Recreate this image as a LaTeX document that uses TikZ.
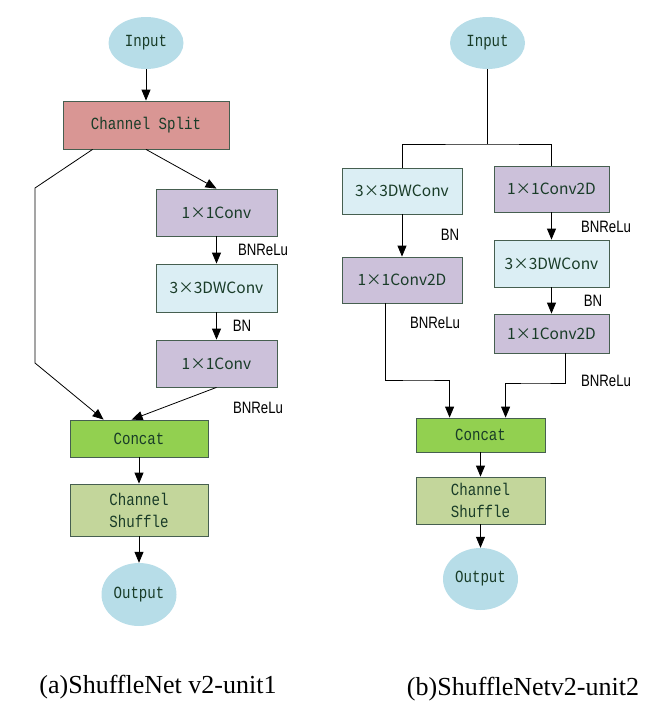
\documentclass[tikz,border=0pt]{standalone}
\usepackage{fontspec}
\setmainfont{Liberation Serif}
\newfontfamily\boxfont[FakeStretch=0.83]{Liberation Mono}
\newfontfamily\labfont[FakeStretch=0.8]{Liberation Sans}
\newfontfamily\cjkfont{Noto Sans CJK SC}
\usepackage{tikz}
\usetikzlibrary{arrows.meta,positioning,shapes.geometric}
\definecolor{boxline}{RGB}{70, 95, 80}
\definecolor{boxtext}{RGB}{25, 60, 40}
\definecolor{ioblue}{RGB}{183, 221, 232}
\definecolor{splitred}{RGB}{217, 150, 148}
\definecolor{convlilac}{RGB}{204, 193, 218}
\definecolor{dwcyan}{RGB}{219, 238, 244}
\definecolor{concatgreen}{RGB}{146, 208, 80}
\definecolor{shufgreen}{RGB}{195, 214, 155}

\begin{document}
\begin{tikzpicture}[x=1pt, y=-1pt,
  blk/.style={draw=boxline, line width=0.8pt, inner sep=0pt, align=center,
    text=boxtext, font=\boxfont\fontsize{17}{22}\selectfont},
  cv/.style={blk, font=\cjkfont\fontsize{15.5}{20}\selectfont},
  io/.style={ellipse, fill=ioblue, inner sep=0pt, text=boxtext,
    font=\boxfont\fontsize{17}{22}\selectfont},
  lab/.style={font=\labfont\fontsize{16.5}{18}\selectfont},
  flow/.style={line width=0.8pt, -{Triangle[length=11pt, width=9pt]}},
  link/.style={line width=0.8pt}]
  \useasboundingbox (0,0) rectangle (668,712);
  % (a) unit 1
  \node[io, minimum width=75pt, minimum height=52pt] (inL) at (146,43) {Input};
  \node[blk, fill=splitred, minimum width=166pt, minimum height=48pt] (splitL) at (146,125) {Channel Split};
  \node[cv, fill=convlilac, minimum width=121pt, minimum height=47pt] (convA) at (216.5,212.5) {1×1Conv};
  \node[cv, fill=dwcyan, minimum width=121pt, minimum height=48pt] (dwA) at (216.5,288) {3×3DWConv};
  \node[cv, fill=convlilac, minimum width=121pt, minimum height=47pt] (convB) at (216.5,363.5) {1×1Conv};
  \node[blk, fill=concatgreen, minimum width=138pt, minimum height=37pt] (concatL) at (139,438.5) {Concat};
  \node[blk, fill=shufgreen, minimum width=138pt, minimum height=52pt] (shufL) at (139,510) {Channel\\Shuffle};
  \node[io, minimum width=75pt, minimum height=63pt] (outL) at (139,594.5) {Output};
  \node[lab] (labA1) at (263,250) {BNReLu};
  \node[lab] (labA2) at (242,326) {BN};
  \node[lab] (labA3) at (258,408) {BNReLu};
  \coordinate (skipA) at (35,188);
  \coordinate (skipB) at (35,363);
  \draw[flow] (inL) -- (splitL);
  \draw[flow] (splitL.south) -- (convA.north);
  \draw[flow] (convA) -- (dwA);
  \draw[flow] (dwA) -- (convB);
  \draw[flow] ([xshift=30pt]splitL.south west) -- (skipA) -- (skipB) -- ([xshift=34pt]concatL.north west);
  \draw[flow] (convB.south) -- ([xshift=62pt]concatL.north west);
  \draw[flow] (concatL) -- (shufL);
  \draw[flow] (shufL) -- (outL);
  % (b) unit 2
  \node[io, minimum width=75pt, minimum height=52pt] (inR) at (487.5,43) {Input};
  \node[cv, fill=dwcyan, minimum width=120pt, minimum height=46pt] (dwR1) at (402,191) {3×3DWConv};
  \node[cv, fill=convlilac, minimum width=120pt, minimum height=46pt] (convR1) at (402,280) {1×1Conv2D};
  \node[cv, fill=convlilac, minimum width=115pt, minimum height=46pt] (convR2) at (551.5,189) {1×1Conv2D};
  \node[cv, fill=dwcyan, minimum width=115pt, minimum height=47pt] (dwR2) at (551.5,263.5) {3×3DWConv};
  \node[cv, fill=convlilac, minimum width=115pt, minimum height=39pt] (convR3) at (551.5,333.5) {1×1Conv2D};
  \node[blk, fill=concatgreen, minimum width=129pt, minimum height=34pt] (concatR) at (480.5,435) {Concat};
  \node[blk, fill=shufgreen, minimum width=129pt, minimum height=47pt] (shufR) at (480.5,500.5) {Channel\\Shuffle};
  \node[io, minimum width=75pt, minimum height=62pt] (outR) at (480.5,579) {Output};
  \node[lab] (labB1) at (450,235) {BN};
  \node[lab] (labB2) at (435,323) {BNReLu};
  \node[lab] (labB3) at (606,227) {BNReLu};
  \node[lab] (labB4) at (593,301) {BN};
  \node[lab] (labB5) at (606,381) {BNReLu};
  \coordinate (forkR) at (487.5,144);
  \coordinate (bendR1) at (420,380);
  \coordinate (bendR2) at (536,383);
  \draw[link] (inR.south) -- (forkR);
  \draw[link] (dwR1.north) |- (forkR) -| (convR2.north);
  \draw[flow] (dwR1) -- (convR1);
  \draw[flow] ([xshift=44pt]convR1.south west) |- (bendR1) -| ([xshift=34pt]concatR.north west);
  \draw[flow] (convR2) -- (dwR2);
  \draw[flow] (dwR2) -- (convR3);
  \draw[flow] ([xshift=72pt]convR3.south west) |- (bendR2) -| ([xshift=90pt]concatR.north west);
  \draw[flow] (concatR) -- (shufR);
  \draw[flow] (shufR) -- (outR);
  % captions
  \node[font=\fontsize{26}{30}\selectfont] (capA) at (158,687) {(a)ShuffleNet v2-unit1};
  \node[font=\fontsize{26}{30}\selectfont] (capB) at (523,689) {(b)ShuffleNetv2-unit2};
\end{tikzpicture}
\end{document}
